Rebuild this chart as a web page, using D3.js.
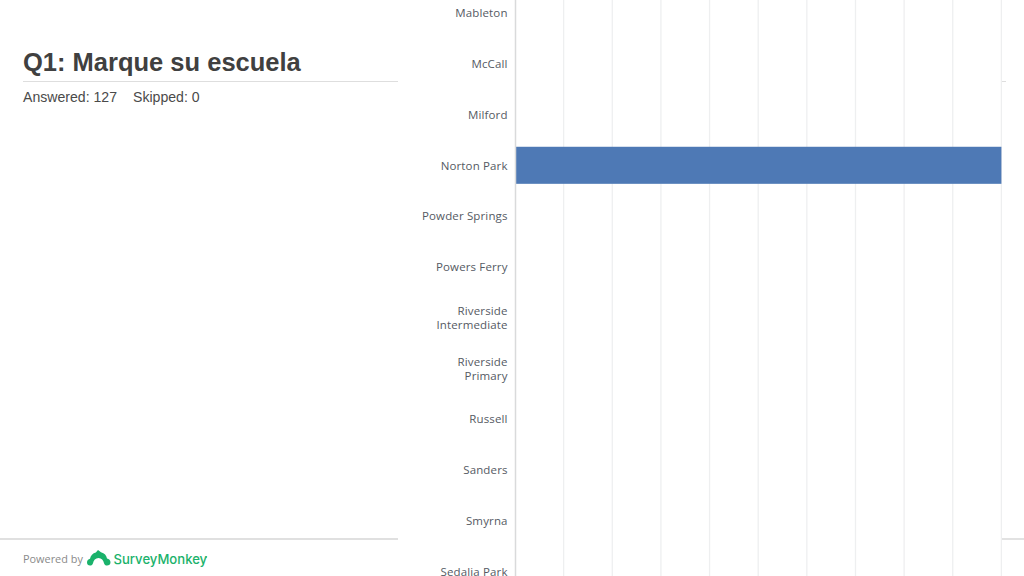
<!DOCTYPE html>
<html>
<head>
<meta charset="utf-8">
<script src="https://cdn.jsdelivr.net/npm/d3@7"></script>
<style>
  html, body { margin: 0; padding: 0; background: #fff; overflow: hidden; }
  svg { display: block; }
  .tick-label { font-family: "Open Sans", sans-serif; font-size: 11.5px; fill: #555a63; letter-spacing: 0.14px; }
</style>
</head>
<body>
<svg id="chart" width="1024" height="576"></svg>
<script>
// Data
const schools = ['Mableton', 'McCall', 'Milford', 'Norton Park', 'Powder Springs', 'Powers Ferry',
  'Riverside Intermediate', 'Riverside Primary', 'Russell', 'Sanders', 'Smyrna', 'Sedalia Park'];
const shares = [0, 0, 0, 1, 0, 0, 0, 0, 0, 0, 0, 0];
const gridTicks = [0.1, 0.2, 0.3, 0.4, 0.5, 0.6, 0.7, 0.8, 0.9, 1];

const svg = d3.select('#chart');

// Chart is clipped by the page, first and last rows run off the top and bottom
const xScale = d3.scaleLinear().domain([0, 1]).range([515, 1001.4]);
const yScale = d3.scaleBand().domain(schools).range([-12.3, 596.6]).paddingInner(0.27).paddingOuter(0.135);

// Gridlines
svg.append('g')
  .selectAll('line')
  .data(gridTicks)
  .enter()
  .append('line')
  .attr('x1', d => xScale(d))
  .attr('x2', d => xScale(d))
  .attr('y1', 0)
  .attr('y2', 576)
  .attr('stroke', '#eeeff0')
  .attr('stroke-width', 1.3);

// Bars
svg.append('g')
  .selectAll('rect')
  .data(schools)
  .enter()
  .append('rect')
  .attr('x', xScale(0))
  .attr('y', d => yScale(d))
  .attr('width', (d, i) => xScale(shares[i]) - xScale(0))
  .attr('height', yScale.bandwidth())
  .attr('fill', '#4e79b5');

// Axis line and wrapped labels
const yAxis = svg.append('g')
  .attr('transform', `translate(${xScale(0)},0)`)
  .call(d3.axisLeft(yScale).tickSize(0).tickPadding(7).tickFormat(''));
yAxis.select('.domain').attr('stroke', '#d9dadb').attr('stroke-width', 1.5);

yAxis.selectAll('.tick').each(function (d) {
  const words = d.startsWith('Riverside') ? d.split(' ') : [d];
  const label = d3.select(this).select('text')
    .attr('class', 'tick-label')
    .attr('text-anchor', 'end')
    .attr('dy', null);
  words.forEach((w, i) => {
    label.append('tspan')
      .attr('x', -7.4)
      .attr('y', 4.4 + (i - (words.length - 1) / 2) * 14)
      .text(w);
  });
});

// Left panel
svg.append('text')
  .attr('x', 23)
  .attr('y', 70.6)
  .attr('font-family', '"Liberation Sans", Arial, sans-serif')
  .attr('font-weight', 700)
  .attr('font-size', 25.5)
  .attr('fill', '#404040')
  .text('Q1: Marque su escuela');

svg.append('text')
  .attr('x', 23)
  .attr('y', 101.5)
  .attr('font-family', '"Liberation Sans", Arial, sans-serif')
  .attr('font-size', 14.1)
  .attr('fill', '#4a4a4a')
  .text('Answered: 127');

svg.append('text')
  .attr('x', 133)
  .attr('y', 101.5)
  .attr('font-family', '"Liberation Sans", Arial, sans-serif')
  .attr('font-size', 14.1)
  .attr('fill', '#4a4a4a')
  .text('Skipped: 0');

// Header and footer rules, they show again right of the chart
const rules = [
  [23, 398, 81.5, '#dedede', 1],
  [1002, 1006, 81.5, '#dedede', 1],
  [0, 398, 539, '#d6d6d6', 1.4],
  [1002, 1024, 539, '#d6d6d6', 1.4]
];
svg.append('g')
  .selectAll('line')
  .data(rules)
  .enter()
  .append('line')
  .attr('x1', d => d[0])
  .attr('x2', d => d[1])
  .attr('y1', d => d[2])
  .attr('y2', d => d[2])
  .attr('stroke', d => d[3])
  .attr('stroke-width', d => d[4]);

// Footer
svg.append('text')
  .attr('x', 23)
  .attr('y', 563)
  .attr('font-family', '"Open Sans", sans-serif')
  .attr('font-size', 10.9)
  .attr('fill', '#8a8a8a')
  .text('Powered by');

const logo = svg.append('g').attr('fill', '#1ab26b').attr('transform', 'translate(87,550)');
logo.append('path')
  .attr('d', 'M11 0 L14 2.2 C17.5 3 19.5 5.5 20 8.5 C22 9 23.5 10.3 23.5 12.3 C23.5 14.5 22 15.6 20 15.6 C18.5 15.6 17.5 14.7 17 13.3 C16.5 10.2 14.5 8 11.5 8 C8.5 8 6.5 10.2 6 13.3 C5.5 14.7 4.5 15.6 3 15.6 C1.2 15.6 0 14.3 0 12.5 C0 10.5 1.3 9.2 3 8.8 C3.6 5.5 5.8 3.2 8.8 2.5 Z');
svg.append('text')
  .attr('x', 113.5)
  .attr('y', 564)
  .attr('font-family', 'Inter, sans-serif')
  .attr('font-weight', 500)
  .attr('font-size', 13.1)
  .attr('fill', '#1ab26b')
  .text('SurveyMonkey');
svg.append('circle').attr('cx', 206.5).attr('cy', 557).attr('r', 0.7).attr('fill', '#1ab26b');
</script>
</body>
</html>
